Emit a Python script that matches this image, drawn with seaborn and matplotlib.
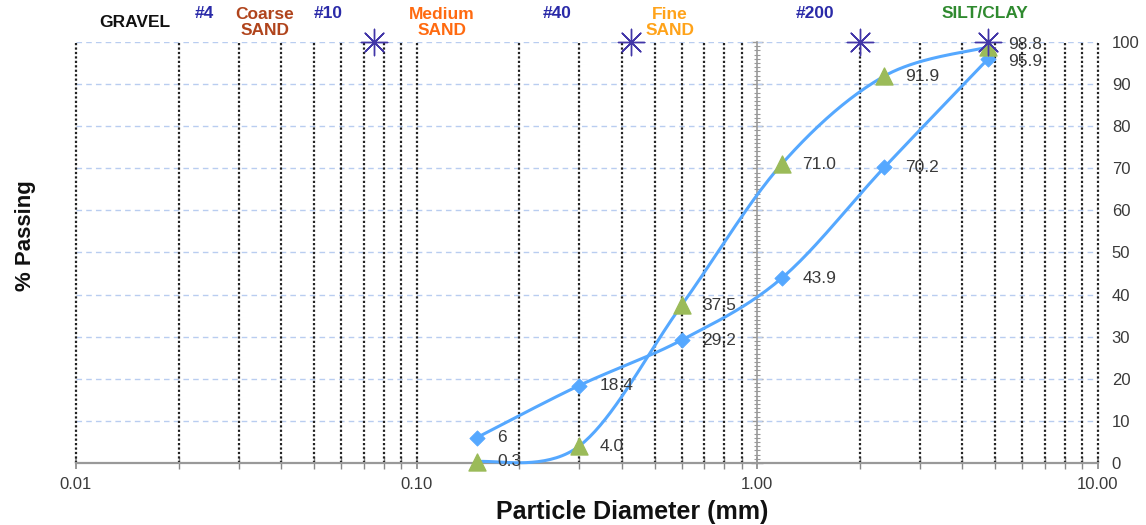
import numpy as np
import pandas as pd
import matplotlib
matplotlib.use("Agg")
import matplotlib.pyplot as plt
import matplotlib.ticker as mticker
import seaborn as sns

# ---------------- data ----------------
sieve_mm = [0.15, 0.3, 0.6, 1.18, 2.36, 4.75]
passing_a = [6, 18.4, 29.2, 43.9, 70.2, 95.9]      # diamonds
passing_b = [0.3, 4.0, 37.5, 71.0, 91.9, 98.8]     # triangles
labels_a = ["6", "18.4", "29.2", "43.9", "70.2", "95.9"]
labels_b = ["0.3", "4.0", "37.5", "71.0", "91.9", "98.8"]

boundary_mm = [0.075, 0.425, 2.0, 4.75]            # asterisk markers at 100 %
boundary_pct = [100, 100, 100, 100]

zone_text = ["GRAVEL", "#4", "Coarse\nSAND", "#10", "Medium\nSAND", "#40",
             "Fine\nSAND", "#200", "SILT/CLAY"]
zone_x = [0.0149, 0.0239, 0.0359, 0.0549, 0.1187, 0.258, 0.554, 1.476, 4.66]
zone_y = [104.6, 106.8, 104.6, 106.8, 104.6, 106.8, 104.6, 106.8, 106.8]
zone_color = ["#111111", "#2a2aa8", "#b0441c", "#2a2aa8", "#ff6a10", "#2a2aa8",
              "#ffa31a", "#2a2aa8", "#2f8a2f"]

x_ticks = [0.01, 0.1, 1.0, 10.0]
x_ticklabels = ["0.01", "0.10", "1.00", "10.00"]
y_ticks = list(range(0, 101, 10))

# ---------------- helpers ----------------
def smooth(xs, ys, n=40):
    """Catmull-Rom (Excel-like) smoothing in log-x space."""
    u = np.log10(np.asarray(xs, float))
    y = np.asarray(ys, float)
    P = np.column_stack([u, y])
    P = np.vstack([P[0], P, P[-1]])
    out = []
    t = np.linspace(0, 1, n)[:, None]
    for i in range(1, len(P) - 2):
        p0, p1, p2, p3 = P[i - 1], P[i], P[i + 1], P[i + 2]
        c1 = p1 + (p2 - p0) / 6.0
        c2 = p2 - (p3 - p1) / 6.0
        seg = ((1 - t) ** 3) * p1 + 3 * ((1 - t) ** 2) * t * c1 + 3 * (1 - t) * t ** 2 * c2 + t ** 3 * p2
        out.append(seg if i == 1 else seg[1:])
    out = np.vstack(out)
    return 10 ** out[:, 0], out[:, 1]

# ---------------- style ----------------
sns.set_theme(style="white")
plt.rcParams["font.family"] = ["Liberation Sans", "DejaVu Sans"]

fig = plt.figure(figsize=(11.46, 5.25), dpi=100)
ax = fig.add_axes([0.0663, 0.1181, 0.8917, 0.8019])
ax.set_xscale("log")
ax.set_xlim(0.01, 10)
ax.set_ylim(0, 100)

# grid lines
for yv in y_ticks[1:]:
    ax.axhline(yv, color="#b9cdf0", lw=1.0, ls=(0, (4, 3)), zorder=1)
log_ticks = [m * 10.0 ** e for e in (-2, -1, 0) for m in range(1, 10)] + [10.0]
for xv in log_ticks:
    if abs(xv - 1.0) < 1e-9:
        continue
    ax.axvline(xv, color="#222222", lw=1.6, ls=(0, (1, 1)), zorder=2, clip_on=False)

# smooth curves
line_col = "#55a8ff"
for pas in (passing_a, passing_b):
    sx, sy = smooth(sieve_mm, pas)
    sns.lineplot(x=sx, y=sy, sort=False, color=line_col, lw=2.2, ax=ax, zorder=3, clip_on=False)

# markers
sns.scatterplot(x=sieve_mm, y=passing_a, marker="D", s=60, color=line_col,
                edgecolor=line_col, ax=ax, zorder=4, clip_on=False)
sns.scatterplot(x=sieve_mm, y=passing_b, marker="^", s=150, color="#9bbb59",
                edgecolor="#9bbb59", ax=ax, zorder=4, clip_on=False)
sns.scatterplot(x=boundary_mm, y=boundary_pct, marker=(8, 2, 0), s=360,
                color="#4236a8", edgecolor="#4236a8", linewidth=1.0, ax=ax,
                zorder=5, clip_on=False)

# data labels
n_pts = len(sieve_mm)
for i, (xv, yv, t) in enumerate(zip(sieve_mm, passing_a, labels_a)):
    dy = -1.5 if i == n_pts - 1 else 0
    ax.annotate(t, (xv, yv), xytext=(15, dy), textcoords="offset points",
                va="center", ha="left", fontsize=12.5, color="#3a3a3a", zorder=6,
                annotation_clip=False)
for i, (xv, yv, t) in enumerate(zip(sieve_mm, passing_b, labels_b)):
    dy = 1.5 if i == n_pts - 1 else 0
    ax.annotate(t, (xv, yv), xytext=(15, dy), textcoords="offset points",
                va="center", ha="left", fontsize=12.5, color="#3a3a3a", zorder=6,
                annotation_clip=False)

# zone labels on top
for t, xv, yv, c in zip(zone_text, zone_x, zone_y, zone_color):
    ax.text(xv, yv, t, ha="center", va="center", fontsize=12.5, fontweight="bold",
            color=c, linespacing=1.1, clip_on=False)

# spines / axes
for s in ("top", "right"):
    ax.spines[s].set_visible(False)
ax.spines["left"].set_position(("data", 1.0))
ax.spines["left"].set_color("#999999")
ax.spines["left"].set_linewidth(1.2)
ax.spines["left"].set_zorder(2.5)
ax.spines["bottom"].set_color("#999999")
ax.spines["bottom"].set_linewidth(1.6)

ax.set_xticks(x_ticks)
ax.set_xticklabels(x_ticklabels)
ax.xaxis.set_minor_locator(mticker.LogLocator(base=10, subs=np.arange(2, 10)))
ax.xaxis.set_minor_formatter(mticker.NullFormatter())
ax.tick_params(axis="x", which="major", direction="inout", length=8, width=1.2,
               color="#888888", labelsize=12, labelcolor="#3a3a3a", pad=6, bottom=True)
ax.tick_params(axis="x", which="minor", direction="inout", length=8, width=1.0,
               color="#888888", bottom=True)

ax.set_yticks(y_ticks)
ax.yaxis.set_minor_locator(mticker.MultipleLocator(1))
ax.tick_params(axis="y", which="major", direction="inout", length=8, width=1.0,
               color="#999999", left=True, right=False, labelleft=False,
               labelright=True, labelsize=12, labelcolor="#3a3a3a", pad=6)
ax.tick_params(axis="y", which="minor", direction="inout", length=5, width=0.8,
               color="#999999", left=True, right=False)
for lab in ax.get_yticklabels():
    lab.set_horizontalalignment("left")

ax.set_xlabel("")
ax.set_ylabel("")
fig.text(0.552, 0.012, "Particle Diameter (mm)", ha="center", va="baseline",
         fontsize=18, fontweight="bold", color="#111111")
fig.text(0.022, 0.552, "% Passing", rotation=90, ha="center", va="center",
         fontsize=16, fontweight="bold", color="#111111")

fig.savefig("out.png", dpi=100)
